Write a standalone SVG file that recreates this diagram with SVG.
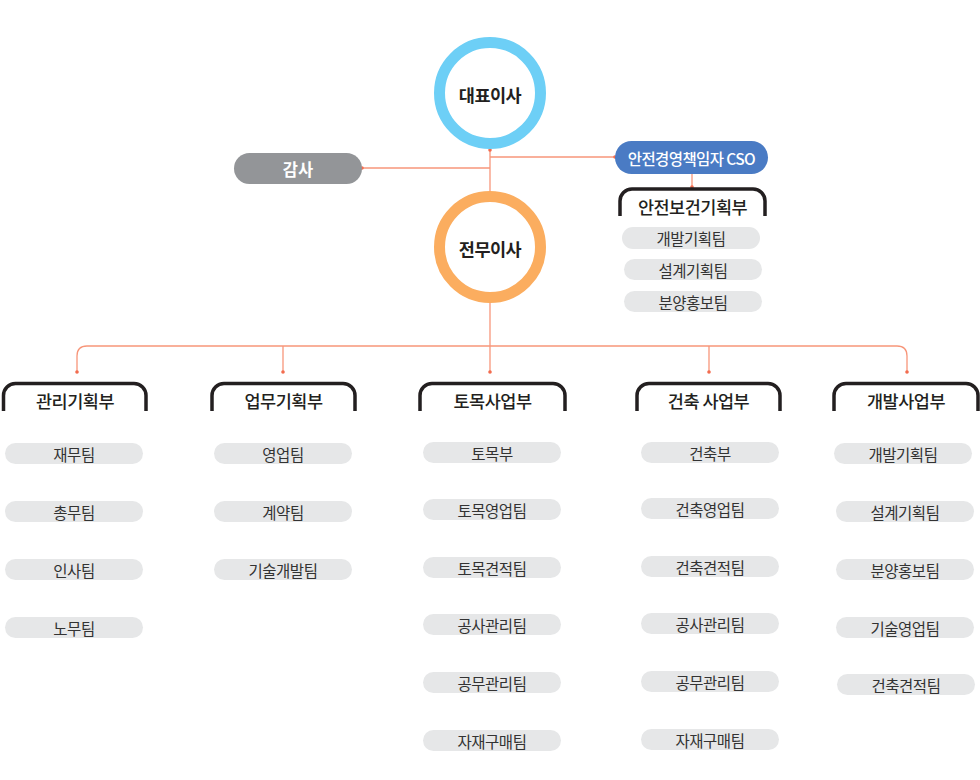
<svg xmlns="http://www.w3.org/2000/svg" width="980" height="780" viewBox="0 0 980 780">
<style>
text{font-family:"Noto Sans CJK KR","Noto Sans",sans-serif;text-anchor:middle;dominant-baseline:central}
.ring{fill:#fff;stroke-width:11}
.ctext{font-size:17.5px;font-weight:700;fill:#231f20;letter-spacing:-0.5px}
.dept{fill:none;stroke:#231f20;stroke-width:3.5}
.dtext{font-size:17.5px;font-weight:500;fill:#231f20;letter-spacing:-0.5px}
.team{fill:#e6e7e8}
.ttext{font-size:15.5px;fill:#333;letter-spacing:-0.5px}
.conn{fill:none;stroke:#f7967a;stroke-width:1.3}
.dot{fill:#f26c4f}
</style>
<g id="connectors">
<path class="conn" d="M490,150 V372"/>
<path class="conn" d="M362,168 H490"/>
<path class="conn" d="M490,157 H615"/>
<path class="conn" d="M692,174 V187"/>
<path class="conn" d="M77,372 V356 Q77,346 87,346 H897 Q907,346 907,356 V372"/>
<path class="conn" d="M283,346 V372"/>
<path class="conn" d="M709,346 V372"/>
<circle class="dot" cx="490" cy="150" r="1.8"/>
<circle class="dot" cx="362" cy="168" r="1.8"/>
<circle class="dot" cx="615" cy="157" r="1.8"/>
<circle class="dot" cx="692" cy="187" r="1.8"/>
<circle class="dot" cx="77" cy="372" r="1.8"/>
<circle class="dot" cx="283" cy="372" r="1.8"/>
<circle class="dot" cx="490" cy="372" r="1.8"/>
<circle class="dot" cx="709" cy="372" r="1.8"/>
<circle class="dot" cx="907" cy="372" r="1.8"/>
</g>
<g id="ceo">
<circle class="ring" cx="490" cy="93" r="50.5" stroke="#6dcff6"/>
<text class="ctext" x="490" y="94">대표이사</text>
</g>
<g id="exec">
<circle class="ring" cx="490" cy="247" r="50.5" stroke="#fbad5f"/>
<text class="ctext" x="490" y="248">전무이사</text>
</g>
<g id="audit">
<rect x="234" y="153" width="128" height="31" rx="15.5" fill="#939598"/>
<text x="298" y="168.5" style="font-size:16.5px;font-weight:700;fill:#fff">감사</text>
</g>
<g id="cso">
<rect x="615" y="141" width="153" height="33" rx="16.5" fill="#4a7bc4"/>
<text x="691.5" y="157.5" style="font-size:15.5px;font-weight:500;fill:#fff;letter-spacing:-0.6px">안전경영책임자 CSO</text>
</g>
<g id="safety">
<path class="dept" d="M620,216 V201 A12,12 0 0 1 632,189 H753 A12,12 0 0 1 765,201 V216"/>
<text class="dtext" x="692.5" y="206">안전보건기획부</text>
<rect class="team" x="622" y="227" width="138" height="22" rx="11"/>
<text class="ttext" x="691" y="238">개발기획팀</text>
<rect class="team" x="624" y="259" width="138" height="21" rx="10.5"/>
<text class="ttext" x="693" y="269.5">설계기획팀</text>
<rect class="team" x="624" y="291" width="138" height="21" rx="10.5"/>
<text class="ttext" x="693" y="301.5">분양홍보팀</text>
</g>
<g id="dept-admin">
<path class="dept" d="M3.5,411 V395.5 A12,12 0 0 1 15.5,383.5 H134 A12,12 0 0 1 146,395.5 V411"/>
<text class="dtext" x="75" y="400">관리기획부</text>
<rect class="team" x="5" y="443" width="138" height="21" rx="10.5"/>
<text class="ttext" x="74" y="453.5">재무팀</text>
<rect class="team" x="5" y="501" width="138" height="21" rx="10.5"/>
<text class="ttext" x="74" y="511.5">총무팀</text>
<rect class="team" x="5" y="559" width="138" height="21" rx="10.5"/>
<text class="ttext" x="74" y="569.5">인사팀</text>
<rect class="team" x="5" y="617" width="138" height="21" rx="10.5"/>
<text class="ttext" x="74" y="627.5">노무팀</text>
</g>
<g id="dept-business">
<path class="dept" d="M212,411 V395.5 A12,12 0 0 1 224,383.5 H343 A12,12 0 0 1 355,395.5 V411"/>
<text class="dtext" x="283.5" y="400">업무기획부</text>
<rect class="team" x="214" y="443" width="138" height="21" rx="10.5"/>
<text class="ttext" x="283" y="453.5">영업팀</text>
<rect class="team" x="214" y="501" width="138" height="21" rx="10.5"/>
<text class="ttext" x="283" y="511.5">계약팀</text>
<rect class="team" x="214" y="559" width="138" height="21" rx="10.5"/>
<text class="ttext" x="283" y="569.5">기술개발팀</text>
</g>
<g id="dept-civil">
<path class="dept" d="M420,411 V395.5 A12,12 0 0 1 432,383.5 H553 A12,12 0 0 1 565,395.5 V411"/>
<text class="dtext" x="492.5" y="400">토목사업부</text>
<rect class="team" x="423" y="442" width="138" height="21" rx="10.5"/>
<text class="ttext" x="492" y="452.5">토목부</text>
<rect class="team" x="423" y="499" width="138" height="21" rx="10.5"/>
<text class="ttext" x="492" y="509.5">토목영업팀</text>
<rect class="team" x="423" y="557" width="138" height="21" rx="10.5"/>
<text class="ttext" x="492" y="567.5">토목견적팀</text>
<rect class="team" x="423" y="614" width="138" height="21" rx="10.5"/>
<text class="ttext" x="492" y="624.5">공사관리팀</text>
<rect class="team" x="423" y="672" width="138" height="21" rx="10.5"/>
<text class="ttext" x="492" y="682.5">공무관리팀</text>
<rect class="team" x="423" y="730" width="138" height="21" rx="10.5"/>
<text class="ttext" x="492" y="740.5">자재구매팀</text>
</g>
<g id="dept-arch">
<path class="dept" d="M637,411 V395.5 A12,12 0 0 1 649,383.5 H768 A12,12 0 0 1 780,395.5 V411"/>
<text class="dtext" x="708.5" y="400">건축 사업부</text>
<rect class="team" x="641" y="442" width="138" height="21" rx="10.5"/>
<text class="ttext" x="710" y="452.5">건축부</text>
<rect class="team" x="641" y="498" width="138" height="21" rx="10.5"/>
<text class="ttext" x="710" y="508.5">건축영업팀</text>
<rect class="team" x="641" y="556" width="138" height="21" rx="10.5"/>
<text class="ttext" x="710" y="566.5">건축견적팀</text>
<rect class="team" x="641" y="613" width="138" height="21" rx="10.5"/>
<text class="ttext" x="710" y="623.5">공사관리팀</text>
<rect class="team" x="641" y="671" width="138" height="21" rx="10.5"/>
<text class="ttext" x="710" y="681.5">공무관리팀</text>
<rect class="team" x="641" y="729" width="138" height="21" rx="10.5"/>
<text class="ttext" x="710" y="739.5">자재구매팀</text>
</g>
<g id="dept-dev">
<path class="dept" d="M834,411 V395.5 A12,12 0 0 1 846,383.5 H966 A12,12 0 0 1 978,395.5 V411"/>
<text class="dtext" x="906" y="400">개발사업부</text>
<rect class="team" x="834" y="443" width="138" height="21" rx="10.5"/>
<text class="ttext" x="903" y="453.5">개발기획팀</text>
<rect class="team" x="836" y="501" width="138" height="21" rx="10.5"/>
<text class="ttext" x="905" y="511.5">설계기획팀</text>
<rect class="team" x="836" y="559" width="138" height="21" rx="10.5"/>
<text class="ttext" x="905" y="569.5">분양홍보팀</text>
<rect class="team" x="836" y="617" width="138" height="21" rx="10.5"/>
<text class="ttext" x="905" y="627.5">기술영업팀</text>
<rect class="team" x="837" y="674" width="138" height="21" rx="10.5"/>
<text class="ttext" x="906" y="684.5">건축견적팀</text>
</g>
</svg>
